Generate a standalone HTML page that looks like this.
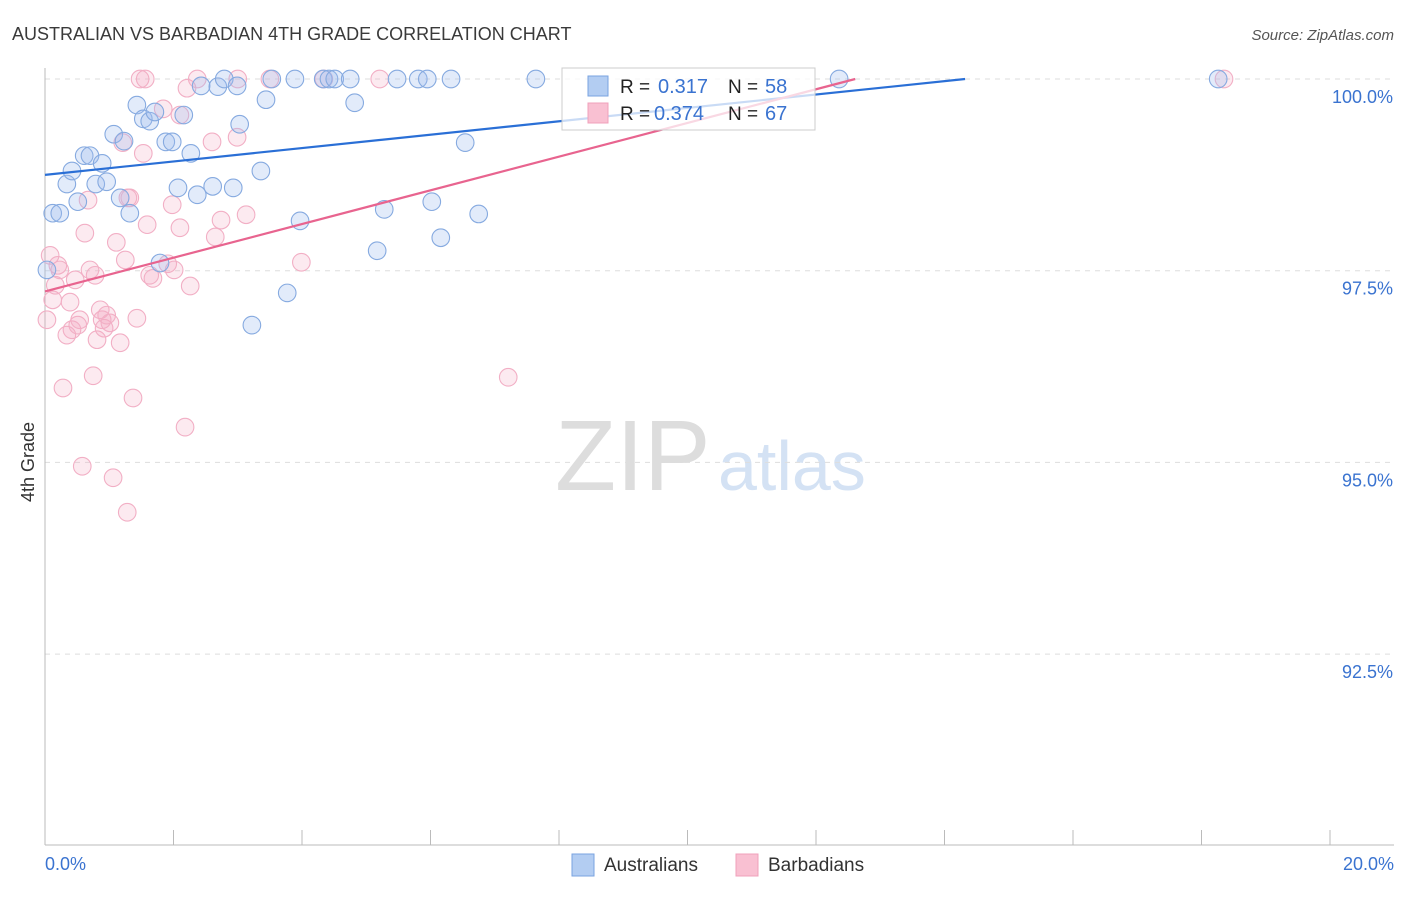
<!DOCTYPE html>
<html><head><meta charset="utf-8"><style>
body{margin:0;background:#fff;font-family:"Liberation Sans",sans-serif}
svg text{font-family:"Liberation Sans",sans-serif}
</style></head><body>
<svg id="chart" width="1406" height="892">
<text x="12" y="40" font-size="18" fill="#3a3a3a">AUSTRALIAN VS BARBADIAN 4TH GRADE CORRELATION CHART</text>
<text x="1394" y="40" font-size="15" fill="#555" font-style="italic" text-anchor="end">Source: ZipAtlas.com</text>
<text x="34" y="462" font-size="18" fill="#333" text-anchor="middle" transform="rotate(-90 34 462)">4th Grade</text>
<text x="555" y="490" font-size="100" fill="#ddd" font-family="Liberation Serif">ZIP</text>
<text x="718" y="490" font-size="70" fill="#d4e2f4">atlas</text>
<g id="grid"></g><g id="axes"></g><g id="pts"></g><g id="lines"></g>
<g>
<rect x="562" y="68" width="253" height="62" fill="#fff" fill-opacity="0.75" stroke="#ccc"/>
<rect x="588" y="76" width="20" height="20" fill="#b3cdf2" stroke="#7aa3e0"/>
<rect x="588" y="103" width="20" height="20" fill="#f9c0d2" stroke="#f0a0bb"/>
<text x="620" y="93" font-size="19" fill="#222">R =</text>
<text x="658" y="93" font-size="20" fill="#3a73d0">0.317</text>
<text x="728" y="93" font-size="19" fill="#222">N =</text>
<text x="765" y="93" font-size="20" fill="#3a73d0">58</text>
<text x="620" y="120" font-size="19" fill="#222">R =</text>
<text x="654" y="120" font-size="20" fill="#3a73d0">0.374</text>
<text x="728" y="120" font-size="19" fill="#222">N =</text>
<text x="765" y="120" font-size="20" fill="#3a73d0">67</text>
</g>
<g>
<rect x="572" y="854" width="22" height="22" fill="#b3cdf2" stroke="#7aa3e0"/>
<text x="604" y="871" font-size="19" fill="#333">Australians</text>
<rect x="736" y="854" width="22" height="22" fill="#f9c0d2" stroke="#f0a0bb"/>
<text x="768" y="871" font-size="19" fill="#333">Barbadians</text>
</g>
</svg>
<script>
const ausX=[0.12,0.23,0.34,0.42,0.51,0.61,0.70,0.79,0.89,0.96,1.07,1.17,1.23,1.32,1.43,1.53,1.63,1.71,1.79,1.88,1.98,2.07,2.16,2.27,2.37,2.43,2.61,2.69,2.79,2.93,2.99,3.03,3.22,3.36,3.44,3.53,3.77,3.89,3.97,4.33,4.42,4.51,4.75,4.82,5.17,5.28,5.48,5.81,5.95,6.02,6.16,6.32,6.54,6.75,7.64,12.36,18.26,0.03];
const ausY=[98.25,98.25,98.63,98.80,98.40,99.00,99.00,98.63,98.90,98.66,99.28,98.45,99.19,98.25,99.66,99.48,99.45,99.57,97.60,99.18,99.18,98.58,99.53,99.03,98.49,99.91,98.60,99.90,100,98.58,99.91,99.41,96.79,98.80,99.73,100,97.21,100,98.15,100,100,100,100,99.69,97.76,98.30,100,100,100,98.40,97.93,100,99.17,98.24,100,100,100,97.51];
const barX=[0.03,0.08,0.12,0.16,0.20,0.23,0.28,0.34,0.39,0.42,0.47,0.51,0.54,0.58,0.62,0.67,0.70,0.75,0.78,0.81,0.86,0.89,0.92,0.96,1.01,1.06,1.11,1.17,1.21,1.25,1.28,1.29,1.32,1.37,1.43,1.48,1.53,1.59,1.63,1.68,1.84,1.91,1.98,2.01,2.10,2.18,2.21,2.26,2.37,2.60,2.65,2.74,2.99,3.00,3.13,3.50,3.99,4.34,5.21,7.21,18.35,2.10,1.56];
const barY=[96.86,97.70,97.12,97.31,97.57,97.51,95.97,96.66,97.09,96.73,97.38,96.79,96.86,94.95,97.99,98.42,97.51,96.13,97.44,96.60,96.99,96.86,96.75,96.92,96.82,94.80,97.87,96.56,99.17,97.64,94.35,98.45,98.45,95.84,96.88,100,99.03,98.10,97.44,97.40,99.61,97.59,98.36,97.51,99.53,95.46,99.88,97.30,100,99.18,97.94,98.16,99.24,100,98.23,100,97.61,100,100,96.11,100,98.06,100];
const ausLine=[[0,98.75],[14.32,100]];
const barLine=[[0,97.23],[12.61,100]];
const yTicks=[100,97.5,95,92.5];
const yTickLabels=["100.0%","97.5%","95.0%","92.5%"];
const NS="http://www.w3.org/2000/svg";
const sx=v=>45+v/20*1285, sy=v=>79+(100-v)*76.68;
function mk(p,t,a){const e=document.createElementNS(NS,t);for(const k in a)e.setAttribute(k,a[k]);document.getElementById(p).appendChild(e);return e;}
yTicks.forEach((t,i)=>{
 const g=mk('grid','line',{x1:45,x2:1394,y1:sy(t),y2:sy(t),stroke:'#ddd','stroke-dasharray':'5,5'});
 
 
 const l=mk('grid','text',{x:1393,y:sy(t)+24,'font-size':18,fill:'#3a73d0','text-anchor':'end'});
 l.textContent=yTickLabels[i];
 
 
});
let a=mk('axes','line',{x1:45,x2:45,y1:68,y2:845,stroke:'#bbb'});


a=mk('axes','line',{x1:45,x2:1394,y1:845,y2:845,stroke:'#bbb'});


for(let i=0;i<=10;i++){const t=mk('axes','line',{x1:sx(i*2),x2:sx(i*2),y1:830,y2:845,stroke:'#bbb'});
 
 }
let xl=mk('axes','text',{x:45,y:870,'font-size':18,fill:'#3a73d0'});xl.textContent='0.0%';


xl=mk('axes','text',{x:1394,y:870,'font-size':18,fill:'#3a73d0','text-anchor':'end'});xl.textContent='20.0%';


barX.forEach((x,i)=>{const c=mk('pts','circle',{cx:sx(x),cy:sy(barY[i]),r:8.8,fill:'rgba(245,170,195,0.25)',stroke:'#f2afc5','stroke-width':1.1});
 
 });
ausX.forEach((x,i)=>{const c=mk('pts','circle',{cx:sx(x),cy:sy(ausY[i]),r:8.8,fill:'rgba(160,190,240,0.3)',stroke:'#86aae0','stroke-width':1.1});
 
 });
let ln=mk('lines','line',{x1:sx(ausLine[0][0]),y1:sy(ausLine[0][1]),x2:sx(ausLine[1][0]),y2:sy(ausLine[1][1]),stroke:'#2a6fd6','stroke-width':2.2});


ln=mk('lines','line',{x1:sx(barLine[0][0]),y1:sy(barLine[0][1]),x2:sx(barLine[1][0]),y2:sy(barLine[1][1]),stroke:'#e8648f','stroke-width':2.2});


</script>
</body></html>
